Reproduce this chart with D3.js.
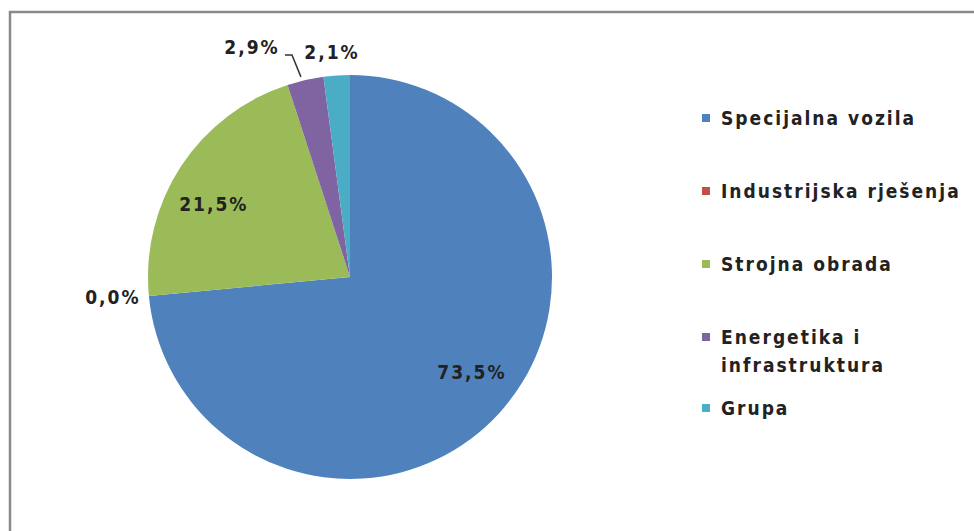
<!DOCTYPE html>
<html>
<head>
<meta charset="utf-8">
<script src="https://cdn.jsdelivr.net/npm/d3@7"></script>
<style>
  html, body { margin: 0; padding: 0; background: #ffffff; }
  svg { display: block; }
</style>
</head>
<body>
<svg id="chart" width="974" height="531"></svg>
<script>
// ---- data ----
const categories = ["Specijalna vozila", "Industrijska rješenja", "Strojna obrada", "Energetika i infrastruktura", "Grupa"];
const values = [73.5, 0.0, 21.5, 2.9, 2.1];
const valueLabels = ["73,5%", "0,0%", "21,5%", "2,9%", "2,1%"];
const legendLines = [["Specijalna vozila"], ["Industrijska rješenja"], ["Strojna obrada"], ["Energetika i", "infrastruktura"], ["Grupa"]];
const colors = ["#4F81BD", "#C0504D", "#9BBB59", "#8064A2", "#4BACC6"];

// ---- layout ----
const W = 974, H = 531;
const cx = 350, cy = 277, R = 202;
const labelPlacement = [
  { r: 0.765, da: -4.4 },
  { r: 1.178, da: 0.6 },
  { r: 0.765, da: -5.1 },
  { r: 1.238, da: -10.3 },
  { r: 1.117, da: -0.8 }
];
const legendX = 702, legendTextX = 721, lineGap = 28;
const legendY = [118, 191, 264, 337, 408];
const fontFamily = "'DejaVu Sans Condensed', 'DejaVu Sans', sans-serif";
const fontSize = 19, letterSpacing = 2.0;

const svg = d3.select("#chart");

// frame
svg.append("rect")
  .attr("x", 10).attr("y", 12)
  .attr("width", W + 20).attr("height", H + 20)
  .attr("fill", "none")
  .attr("stroke", "#8a8a8a")
  .attr("stroke-width", 2.5);

const color = d3.scaleOrdinal().domain(categories).range(colors);

const pie = d3.pie().sort(null).value(d => d.value)
  .startAngle(0).endAngle(2 * Math.PI);
const data = categories.map((c, i) => ({ cat: c, value: values[i], label: valueLabels[i], i }));
const arcs = pie(data);

const arc = d3.arc().innerRadius(0).outerRadius(R);
const g = svg.append("g").attr("transform", `translate(${cx},${cy})`);

g.selectAll("path.slice")
  .data(arcs)
  .enter().append("path")
  .attr("class", "slice")
  .attr("d", arc)
  .attr("fill", d => color(d.data.cat));

function polar(angle, r) {
  return [r * Math.sin(angle), -r * Math.cos(angle)];
}
const deg = Math.PI / 180;

const labelPos = arcs.map((a, i) => {
  const mid = (a.startAngle + a.endAngle) / 2 + labelPlacement[i].da * deg;
  return polar(mid, labelPlacement[i].r * R);
});

// leader line for the 2,9% label
{
  const i = 3;
  const a = arcs[i];
  const mid = (a.startAngle + a.endAngle) / 2;
  const [lx, ly] = labelPos[i];
  const end = polar(mid - 1 * deg, R * 1.02);
  g.append("path")
    .attr("d", d3.line()([[lx + 33, ly + 8], [lx + 40, ly + 8], end]))
    .attr("fill", "none")
    .attr("stroke", "#333")
    .attr("stroke-width", 1.5);
}

g.selectAll("text.val")
  .data(arcs)
  .enter().append("text")
  .attr("class", "val")
  .attr("x", (d, i) => labelPos[i][0])
  .attr("y", (d, i) => labelPos[i][1])
  .attr("dy", "0.36em")
  .attr("text-anchor", "middle")
  .attr("font-family", fontFamily)
  .attr("font-weight", "bold")
  .attr("font-size", fontSize)
  .attr("letter-spacing", letterSpacing)
  .attr("fill", "#222")
  .text(d => d.data.label);

// legend
const leg = svg.append("g");
categories.forEach((c, i) => {
  const y = legendY[i];
  leg.append("rect")
    .attr("x", legendX).attr("y", y - 4)
    .attr("width", 8).attr("height", 8)
    .attr("fill", color(c));
  legendLines[i].forEach((line, k) => {
    leg.append("text")
      .attr("x", legendTextX)
      .attr("y", y + k * lineGap)
      .attr("dy", "0.36em")
      .attr("font-family", fontFamily)
      .attr("font-weight", "bold")
      .attr("font-size", fontSize)
      .attr("letter-spacing", letterSpacing)
      .attr("fill", "#222")
      .text(line);
  });
});
</script>
</body>
</html>
